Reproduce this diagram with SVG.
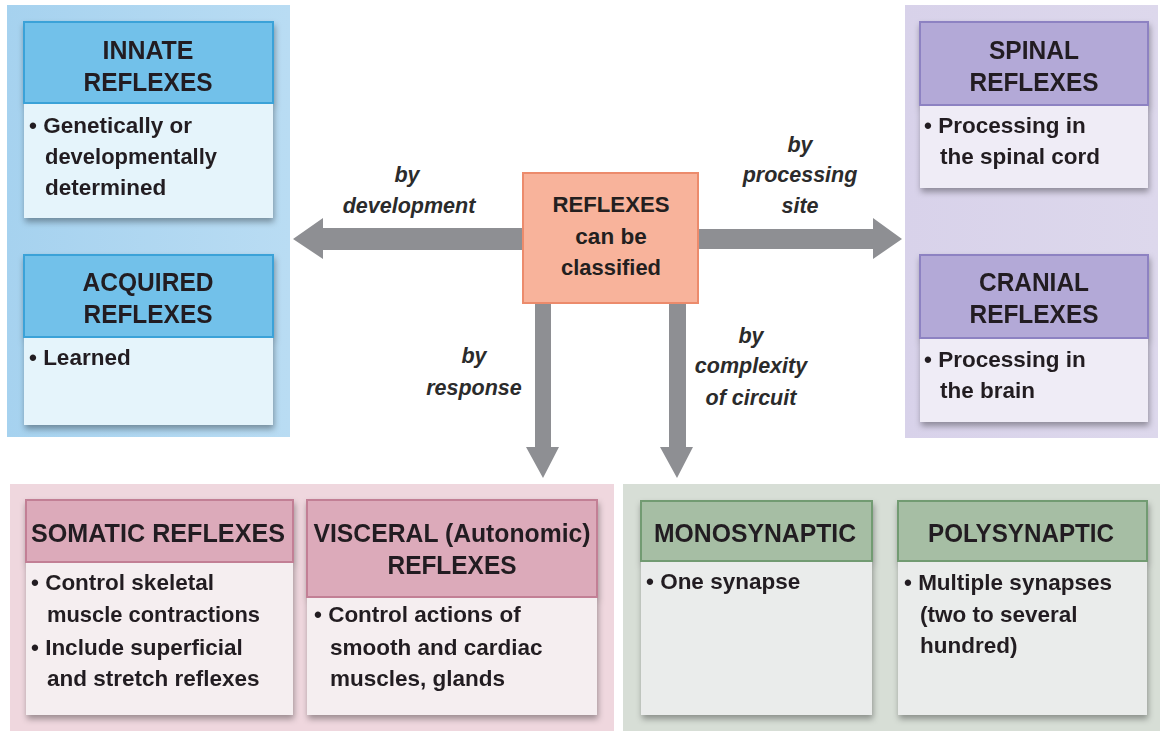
<svg xmlns="http://www.w3.org/2000/svg" width="1163" height="734" viewBox="0 0 1163 734">
<defs>
<filter id="sh" x="-10%" y="-10%" width="125%" height="130%">
<feDropShadow dx="1" dy="4" stdDeviation="3" flood-color="#000" flood-opacity="0.35"/>
</filter>
<linearGradient id="gBlue" x1="0" y1="0" x2="1" y2="0">
<stop offset="0" stop-color="#a6d2ef"/><stop offset="1" stop-color="#b9dcf3"/>
</linearGradient>
<linearGradient id="gPurple" x1="0" y1="0" x2="1" y2="0">
<stop offset="0" stop-color="#d8d2ea"/><stop offset="1" stop-color="#ddd8ec"/>
</linearGradient>
</defs>
<style>
text{font-family:"Liberation Sans",Arial,sans-serif;fill:#231f20;font-weight:bold}
.h{font-size:26.5px;text-anchor:middle}
.b{font-size:22.5px}
.c{font-size:22.5px;text-anchor:middle}
.l{font-size:21.5px;font-style:italic;text-anchor:middle;fill:#2b2b2b}
.arrow{fill:#8e8f93}
.bh{fill:#72c1ea;stroke:#3aa2d8;stroke-width:2}
.bb{fill:#e5f4fb}
.ph{fill:#b3a9d7;stroke:#8d82c2;stroke-width:2}
.pb{fill:#efecf6}
.kh{fill:#dcaaba;stroke:#c27f95;stroke-width:2}
.kb{fill:#f5eef0}
.gh{fill:#a6bea4;stroke:#729b72;stroke-width:2}
.gb{fill:#eaeceb}
</style>
<rect width="1163" height="734" fill="#ffffff"/>
<g id="panels">
<rect x="7" y="5" width="283" height="432" fill="url(#gBlue)"/>
<rect x="905" y="5" width="253" height="433" fill="url(#gPurple)"/>
<rect x="10" y="484" width="604" height="247" fill="#efd7de"/>
<rect x="623" y="484" width="537" height="247" fill="#d7ded6"/>
</g>
<g id="connectors">
<polygon class="arrow" points="530,228 323,228 323,218 293,239 323,259 323,250 530,250"/>
<polygon class="arrow" points="690,229 873,229 873,218 902,239 873,259 873,249 690,249"/>
<polygon class="arrow" points="535,295 551,295 551,447 559,447 543,478 526,447 535,447"/>
<polygon class="arrow" points="669,295 686,295 686,447 693,447 677,478 660,447 669,447"/>
<text class="l" x="407" y="182">by</text>
<text class="l" x="409" y="213">development</text>
<text class="l" x="800" y="152">by</text>
<text class="l" x="800" y="182">processing</text>
<text class="l" x="800" y="213">site</text>
<text class="l" x="474" y="363">by</text>
<text class="l" x="474" y="395">response</text>
<text class="l" x="751" y="343">by</text>
<text class="l" x="751" y="373">complexity</text>
<text class="l" x="751" y="405">of circuit</text>
</g>
<g id="center">
<rect x="523" y="173" width="175" height="130" fill="#f8b39b" stroke="#ec8b6c" stroke-width="2"/>
<text class="c" x="611" y="212" textLength="117" lengthAdjust="spacingAndGlyphs">REFLEXES</text>
<text class="c" x="611" y="244">can be</text>
<text class="c" x="611" y="275" textLength="100" lengthAdjust="spacingAndGlyphs">classified</text>
</g>
<g id="innate" filter="url(#sh)">
<rect class="bb" x="24" y="103" width="249" height="115"/>
<rect class="bh" x="24" y="22" width="249" height="81"/>
<text class="h" x="148" y="59" textLength="91" lengthAdjust="spacingAndGlyphs">INNATE</text>
<text class="h" x="148" y="91" textLength="129" lengthAdjust="spacingAndGlyphs">REFLEXES</text>
<text class="b" x="29" y="133">• Genetically or</text>
<text class="b" x="45" y="164" textLength="172" lengthAdjust="spacingAndGlyphs">developmentally</text>
<text class="b" x="45" y="195">determined</text>
</g>
<g id="acquired" filter="url(#sh)">
<rect class="bb" x="24" y="337" width="249" height="88"/>
<rect class="bh" x="24" y="255" width="249" height="82"/>
<text class="h" x="148" y="291" textLength="131" lengthAdjust="spacingAndGlyphs">ACQUIRED</text>
<text class="h" x="148" y="323" textLength="129" lengthAdjust="spacingAndGlyphs">REFLEXES</text>
<text class="b" x="29" y="365">• Learned</text>
</g>
<g id="spinal" filter="url(#sh)">
<rect class="pb" x="920" y="105" width="228" height="83"/>
<rect class="ph" x="920" y="22" width="228" height="83"/>
<text class="h" x="1034" y="59" textLength="90" lengthAdjust="spacingAndGlyphs">SPINAL</text>
<text class="h" x="1034" y="91" textLength="129" lengthAdjust="spacingAndGlyphs">REFLEXES</text>
<text class="b" x="924" y="133">• Processing in</text>
<text class="b" x="940" y="164">the spinal cord</text>
</g>
<g id="cranial" filter="url(#sh)">
<rect class="pb" x="920" y="338" width="228" height="84"/>
<rect class="ph" x="920" y="255" width="228" height="83"/>
<text class="h" x="1034" y="291" textLength="110" lengthAdjust="spacingAndGlyphs">CRANIAL</text>
<text class="h" x="1034" y="323" textLength="129" lengthAdjust="spacingAndGlyphs">REFLEXES</text>
<text class="b" x="924" y="367">• Processing in</text>
<text class="b" x="940" y="398">the brain</text>
</g>
<g id="somatic" filter="url(#sh)">
<rect class="kb" x="26" y="562" width="267" height="153"/>
<rect class="kh" x="26" y="500" width="267" height="62"/>
<text class="h" x="158" y="542" textLength="254" lengthAdjust="spacingAndGlyphs">SOMATIC REFLEXES</text>
<text class="b" x="31" y="590">• Control skeletal</text>
<text class="b" x="47" y="622" textLength="213" lengthAdjust="spacingAndGlyphs">muscle contractions</text>
<text class="b" x="31" y="655">• Include superficial</text>
<text class="b" x="47" y="686">and stretch reflexes</text>
</g>
<g id="visceral" filter="url(#sh)">
<rect class="kb" x="307" y="597" width="290" height="118"/>
<rect class="kh" x="307" y="500" width="290" height="97"/>
<text class="h" x="452" y="542" textLength="277" lengthAdjust="spacingAndGlyphs">VISCERAL (Autonomic)</text>
<text class="h" x="452" y="574" textLength="129" lengthAdjust="spacingAndGlyphs">REFLEXES</text>
<text class="b" x="314" y="622">• Control actions of</text>
<text class="b" x="330" y="655">smooth and cardiac</text>
<text class="b" x="330" y="686">muscles, glands</text>
</g>
<g id="monosynaptic" filter="url(#sh)">
<rect class="gb" x="641" y="561" width="231" height="154"/>
<rect class="gh" x="641" y="501" width="231" height="60"/>
<text class="h" x="755" y="542" textLength="202" lengthAdjust="spacingAndGlyphs">MONOSYNAPTIC</text>
<text class="b" x="646" y="589">• One synapse</text>
</g>
<g id="polysynaptic" filter="url(#sh)">
<rect class="gb" x="898" y="561" width="249" height="154"/>
<rect class="gh" x="898" y="501" width="249" height="60"/>
<text class="h" x="1021" y="542" textLength="186" lengthAdjust="spacingAndGlyphs">POLYSYNAPTIC</text>
<text class="b" x="904" y="590">• Multiple synapses</text>
<text class="b" x="920" y="622">(two to several</text>
<text class="b" x="920" y="653">hundred)</text>
</g>
</svg>
